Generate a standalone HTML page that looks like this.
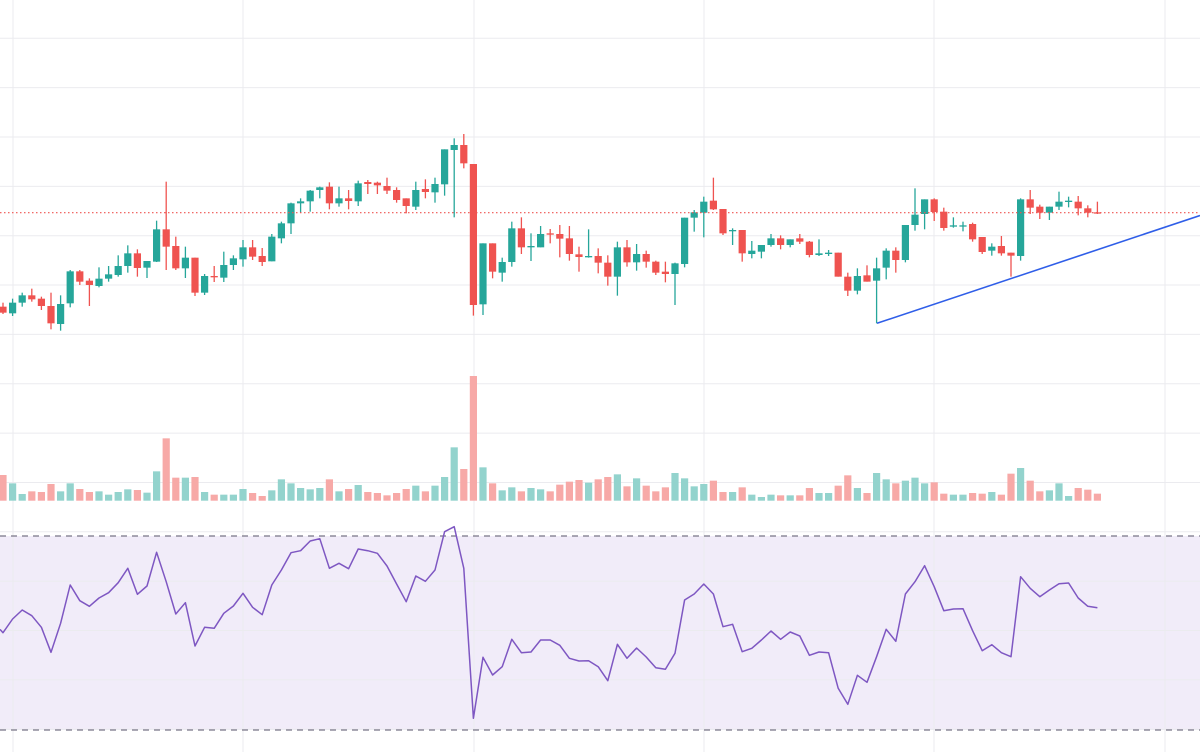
<!DOCTYPE html>
<html><head><meta charset="utf-8"><style>
html,body{margin:0;padding:0;background:#fff;width:1200px;height:752px;overflow:hidden}
svg{display:block}
</style></head><body>
<svg id="c" xmlns="http://www.w3.org/2000/svg" width="1200" height="752" viewBox="0 0 1200 752"></svg>
<script>
const NS="http://www.w3.org/2000/svg",S=document.getElementById('c');
function el(t,a){const e=document.createElementNS(NS,t);for(const k in a)e.setAttribute(k,a[k]);S.appendChild(e);return e;}
// RSI band
el('rect',{x:0,y:536,width:1200,height:194,fill:'#f1ecf9'});
// grid
for(let k=0;k<15;k++){const y=38.3+49.35*k;el('line',{x1:0,x2:1200,y1:y,y2:y,stroke:'#ebebef','stroke-width':1});}
[13,243,474,704,934,1165].forEach(x=>el('line',{x1:x,x2:x,y1:0,y2:752,stroke:'#ebebef','stroke-width':1}));
el('line',{x1:0,x2:1200,y1:536,y2:536,stroke:'#787586','stroke-width':1.3,'stroke-dasharray':'6 5'});
el('line',{x1:0,x2:1200,y1:730,y2:730,stroke:'#787586','stroke-width':1.3,'stroke-dasharray':'6 5'});
// candles [color, bodyTop, bodyBot, wickTop, wickBot] in zoom coords (y=130+z/3)
const C=[
['r',530,548,518,552],['g',518,550,506,558],['g',496,518,488,530],['r',496,508,476,515],['r',506,528,500,540],
['r',528,580,488,598],['g',522,582,496,602],['g',424,520,420,532],['r',424,455,420,465],['r',452,465,445,528],
['g',446,468,412,472],['g',433,446,408,455],['g',408,435,376,440],['g',370,408,346,428],['r',370,414,358,440],
['g',393,413,393,444],['g',298,395,272,396],['r',298,350,155,420],['r',348,415,320,420],['g',383,415,350,444],
['r',383,488,383,498],['g',438,488,432,495],['r',438,442,408,456],['g',405,443,365,456],['g',385,405,376,420],
['g',352,388,330,410],['r',352,380,330,390],['r',378,396,354,408],['g',320,394,312,394],['g',280,325,275,340],
['g',220,280,218,312],['g',214,220,205,248],['g',182,214,180,245],['g',172,180,170,205],['r',170,220,157,238],
['g',205,220,170,230],['r',205,213,180,238],['g',160,214,152,228],['r',156,162,150,192],['r',158,166,155,192],
['r',168,182,143,192],['r',180,210,172,218],
['r',205,228,205,250],['g',180,230,155,240],['r',177,186,148,205],['g',162,187,143,218],['g',58,163,58,197],
['g',45,60,25,262],['r',45,100,12,115],['r',102,525,102,557],['g',340,523,340,555],['r',340,425,340,445],
['g',396,428,383,455],['g',295,396,275,410],['r',295,352,262,372],['g',348,352,310,393],['g',312,352,288,352],
['r',310,314,297,340],['r',312,326,285,382],['r',325,372,288,392],['r',373,381,350,425],['g',378,382,298,383],
['r',378,398,355,430],['r',398,440,376,467],['g',352,440,335,497],['r',352,397,330,410],['g',372,397,342,422],
['r',372,395,362,413],['r',395,428,392,435],['r',425,432,395,457],['g',400,432,398,525],['g',263,402,263,412],
['g',247,263,240,305],['g',215,248,200,322],['r',212,238,143,240],['r',237,310,237,315],['g',300,303,295,345],
['r',300,370,300,395],['g',362,372,333,385],['g',345,365,345,385],['g',325,345,312,350],['r',325,345,316,358],
['g',328,345,328,352],['r',325,335,312,342],
['r',335,375,333,382],['g',370,375,328,378],['g',368,372,360,378],['r',368,440,368,440],['r',440,482,428,498],
['g',438,482,415,493],['r',436,455,406,455],['g',415,452,383,580],['g',362,413,355,448],['r',362,390,352,428],
['g',285,390,285,397],['g',254,285,175,302],['g',208,252,208,298],['r',208,246,205,273],['r',245,294,233,302],
['g',286,290,262,293],['g',286,289,275,304],['r',282,328,278,335],['r',321,366,321,372],['g',350,362,340,377],
['r',348,370,318,377],['r',368,377,368,440],['g',208,378,205,392],['r',208,233,180,252],['r',230,248,224,267],
['g',230,248,230,270],['g',215,230,185,240],['g',212,216,200,232],['r',215,235,198,256],['r',235,248,226,262],
['r',247,250,215,252]];
const V=[315,340,372,364,366,342,364,340,357,366,364,374,366,358,360,368,304,205,323,323,321,366,374,374,374,357,369,378,361,328,340,354,358,354,328,364,357,345,366,369,376,369,357,347,364,347,321,232,297,18,292,340,361,352,364,354,358,364,
344,335,330,338,328,321,313,349,325,347,364,352,309,325,349,342,332,366,366,352,374,381,374,376,376,376,354,369,369,347,316,354,369,309,328,340,332,323,340,337,371,374,374,369,371,366,374,311,294,332,364,361,340,378,354,359,371];
const R=[338,297,270,287,322,397,310,195,242,259,234,218,188,145,223,198,97,185,282,248,378,322,325,280,258,220,262,284,195,150,98,92,63,56,145,130,146,87,92,100,138,192,245,168,184,150,35,20,145,595,412,465,440,358,398,396,360,360,376,
415,423,422,440,482,373,415,384,411,443,448,400,240,222,192,222,320,313,395,385,360,333,358,336,348,406,396,398,505,553,466,487,410,328,364,222,185,137,200,272,267,266,332,392,374,398,410,170,205,230,210,191,189,234,259,263];
const X=i=>3+9.6*i;
// volume
V.forEach((z,i)=>{const y=370+z/3,col=C[i][0]=='g'?'#93d3cd':'#f7a9a7';el('rect',{x:X(i)-3.6,y:y,width:7.2,height:500.7-y,fill:col});});
// candles
C.forEach((c,i)=>{const col=c[0]=='g'?'#26a69a':'#ef5350',x=X(i);
const bt=130+c[1]/3,bb=130+c[2]/3,wt=130+c[3]/3,wb=130+c[4]/3;
el('line',{x1:x,x2:x,y1:wt,y2:wb,stroke:col,'stroke-width':1.3});
el('rect',{x:x-3.6,y:bt,width:7.2,height:Math.max(1.3,bb-bt),fill:col});});
// dotted last price
el('line',{x1:0,x2:1200,y1:212.7,y2:212.7,stroke:'#ef5350','stroke-width':1.2,'stroke-dasharray':'1.5 2.5'});
// trend line
el('line',{x1:877,y1:323.3,x2:1200,y2:215.5,stroke:'#2f5ee8','stroke-width':1.6});
// RSI
let p='M0,'+(520+328/3);R.forEach((z,i)=>{p+=' L'+X(i).toFixed(1)+','+(520+z/3).toFixed(1);});
el('path',{d:p,fill:'none',stroke:'#7e57c2','stroke-width':1.5,'stroke-linejoin':'round'});
</script>
</body></html>
